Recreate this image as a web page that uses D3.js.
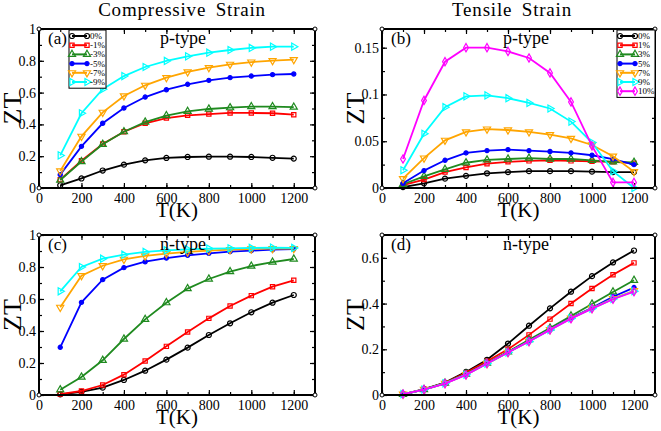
<!DOCTYPE html>
<html>
<head>
<meta charset="utf-8">
<script src="https://cdn.jsdelivr.net/npm/d3@7"></script>
<style>
body { margin: 0; background: #fff; }
svg, svg text { font-family: "Liberation Serif", "Times New Roman", serif; }
</style>
</head>
<body>
<div class="container"></div>
<script>
const wd = 661
const ht = 431
const serif = "Liberation Serif"

const svgC = d3.select(".container")
.append("svg")
.attr("width", wd)
.attr("height", ht)
.attr("font-family", serif)

// temperatures, same for every curve
const temps = [100, 200, 300, 400, 500, 600, 700, 800, 900, 1000, 1100, 1200]

// (a) compressive, p-type
const compLabels = ["0%", "-1%", "-3%", "-5%", "-7%", "-9%"]
const compP = [
    [0.017, 0.06, 0.11, 0.147, 0.174, 0.189, 0.195, 0.197, 0.197, 0.195, 0.19, 0.185],
    [0.052, 0.172, 0.277, 0.354, 0.407, 0.44, 0.457, 0.465, 0.472, 0.472, 0.47, 0.461],
    [0.05, 0.166, 0.275, 0.354, 0.415, 0.455, 0.482, 0.497, 0.505, 0.512, 0.512, 0.509],
    [0.084, 0.262, 0.407, 0.503, 0.572, 0.618, 0.652, 0.677, 0.694, 0.704, 0.713, 0.717],
    [0.107, 0.325, 0.476, 0.579, 0.646, 0.694, 0.73, 0.757, 0.778, 0.792, 0.801, 0.807],
    [0.205, 0.47, 0.621, 0.704, 0.761, 0.799, 0.828, 0.851, 0.868, 0.881, 0.889, 0.889]
]

// (b) tensile, p-type
const tensLabels = ["0%", "1%", "3%", "5%", "7%", "9%", "10%"]
const tensP = [
    [0.001, 0.005, 0.01, 0.013, 0.0157, 0.017, 0.018, 0.018, 0.018, 0.0175, 0.017, 0.017],
    [0.003, 0.009, 0.017, 0.022, 0.026, 0.028, 0.029, 0.0296, 0.029, 0.0286, 0.028, 0.0265],
    [0.004, 0.0125, 0.02, 0.027, 0.03, 0.031, 0.032, 0.031, 0.031, 0.0296, 0.028, 0.0275],
    [0.005, 0.0186, 0.0296, 0.0375, 0.04, 0.041, 0.04, 0.039, 0.0375, 0.035, 0.031, 0.025],
    [0.01, 0.032, 0.051, 0.06, 0.063, 0.062, 0.06, 0.057, 0.053, 0.046, 0.034, 0.0175],
    [0.019, 0.058, 0.0864, 0.098, 0.099, 0.096, 0.091, 0.085, 0.071, 0.0486, 0.018, 0.0],
    [0.031, 0.0936, 0.135, 0.15, 0.15, 0.146, 0.139, 0.123, 0.092, 0.045, 0.006, 0.006]
]

// (c) compressive, n-type
const compN = [
    [0.004, 0.02, 0.046, 0.094, 0.152, 0.221, 0.296, 0.375, 0.448, 0.517, 0.577, 0.625],
    [0.006, 0.025, 0.0625, 0.127, 0.2125, 0.304, 0.394, 0.479, 0.556, 0.621, 0.677, 0.717],
    [0.033, 0.1125, 0.217, 0.35, 0.473, 0.577, 0.665, 0.725, 0.771, 0.806, 0.831, 0.85],
    [0.298, 0.579, 0.721, 0.796, 0.833, 0.856, 0.873, 0.885, 0.896, 0.902, 0.908, 0.9125],
    [0.548, 0.746, 0.808, 0.848, 0.869, 0.883, 0.894, 0.902, 0.908, 0.9125, 0.915, 0.915],
    [0.648, 0.8, 0.852, 0.877, 0.894, 0.904, 0.91, 0.915, 0.917, 0.919, 0.921, 0.919]
]

// (d) tensile, n-type
const tensN = [
    [0.003, 0.026, 0.054, 0.101, 0.154, 0.225, 0.303, 0.379, 0.452, 0.52, 0.58, 0.632],
    [0.003, 0.025, 0.053, 0.097, 0.148, 0.2, 0.263, 0.332, 0.4, 0.466, 0.526, 0.578],
    [0.003, 0.024, 0.052, 0.092, 0.14, 0.189, 0.242, 0.293, 0.346, 0.398, 0.451, 0.502],
    [0.003, 0.024, 0.051, 0.09, 0.138, 0.187, 0.236, 0.287, 0.338, 0.381, 0.43, 0.47],
    [0.004, 0.024, 0.051, 0.089, 0.137, 0.186, 0.235, 0.286, 0.336, 0.379, 0.422, 0.456],
    [0.004, 0.024, 0.051, 0.089, 0.137, 0.186, 0.234, 0.285, 0.335, 0.378, 0.42, 0.454],
    [0.004, 0.024, 0.05, 0.088, 0.138, 0.186, 0.234, 0.285, 0.334, 0.378, 0.419, 0.452]
]

const xTicks = [0, 200, 400, 600, 800, 1000, 1200]

// style per series (grace-ish)
const compStyle = [
    {c: "#000000", s: "circle", f: false},
    {c: "#ff0000", s: "square", f: false},
    {c: "#1f8a1f", s: "tri", f: false},
    {c: "#0000ff", s: "circle", f: true},
    {c: "#ffa500", s: "triDown", f: false},
    {c: "#00ffff", s: "triRight", f: false}
]
const tensStyle = compStyle.concat([{c: "#ff00ff", s: "diamond", f: false}])

const panels = [
    {x0: 39, x1: 315, y0: 29, y1: 188, ymax: 1, major: 0.2, minor: 0.1, data: compP, st: compStyle, lab: "(a)", type: "p-type", legend: compLabels},
    {x0: 382, x1: 655, y0: 29, y1: 188, ymax: 0.17, major: 0.05, minor: 0.025, data: tensP, st: tensStyle, lab: "(b)", type: "p-type", legend: tensLabels},
    {x0: 39, x1: 315, y0: 235, y1: 395, ymax: 1, major: 0.2, minor: 0.1, data: compN, st: compStyle, lab: "(c)", type: "n-type"},
    {x0: 382, x1: 655, y0: 235, y1: 395, ymax: 0.7, major: 0.2, minor: 0.1, data: tensN, st: tensStyle, lab: "(d)", type: "n-type"}
]

// titles
svgC.append("text").attr("x", 182).attr("y", 16).attr("text-anchor", "middle")
.attr("font-family", serif)
.style("font-size", "19px").style("letter-spacing", "0.8px").style("word-spacing", "4px").text("Compressive Strain")
svgC.append("text").attr("x", 512).attr("y", 16).attr("text-anchor", "middle")
.attr("font-family", serif)
.style("font-size", "19px").style("letter-spacing", "0.8px").style("word-spacing", "4px").text("Tensile Strain")

function marker(g, st, x, y) {
    let sym
    let rot = 0
    if (st.s == "circle") sym = d3.symbol().type(d3.symbolCircle).size(st.f ? 14 : 20)
    else if (st.s == "square") sym = d3.symbol().type(d3.symbolSquare).size(18)
    else if (st.s == "diamond") sym = d3.symbol().type(d3.symbolDiamond).size(20)
    else {
        sym = d3.symbol().type(d3.symbolTriangle).size(22)
        if (st.s == "triDown") rot = 180
        if (st.s == "triRight") rot = 90
    }
    g.append("path")
    .attr("d", sym())
    .attr("transform", "translate(" + x + "," + y + ") rotate(" + rot + ")")
    .attr("fill", st.f ? st.c : "none")
    .attr("stroke", st.c)
    .attr("stroke-width", 1.2)
}

panels.forEach(p => {
    const g = svgC.append("g")

    const x = d3.scaleLinear().domain([0, 1300]).range([p.x0, p.x1])
    const y = d3.scaleLinear().domain([0, p.ymax]).range([p.y1, p.y0])

    const yMaj = d3.range(0, p.ymax + 1e-9, p.major)
    const yMin = d3.range(0, p.ymax + 1e-9, p.minor)
    const xMin = d3.range(0, 1301, 100)

    // ticks, inward
    const addAxis = (axis, tr) => {
        const a = g.append("g").attr("transform", tr).call(axis)
        a.attr("font-family", serif)
        a.select(".domain").remove()
        a.selectAll("line").attr("stroke", "#000").attr("stroke-width", 1.2)
        return a
    }

    let bx = addAxis(d3.axisBottom(x).tickValues(xTicks).tickSize(-5).tickPadding(4).tickFormat(d3.format("d")), "translate(0," + p.y1 + ")")
    bx.selectAll("text").attr("font-family", serif).style("font-size", "14px").attr("fill", "#000").attr("dy", "0.75em")
    addAxis(d3.axisBottom(x).tickValues(xMin).tickSize(-3).tickFormat(""), "translate(0," + p.y1 + ")")
    addAxis(d3.axisTop(x).tickValues(xTicks).tickSize(-5).tickFormat(""), "translate(0," + p.y0 + ")")
    addAxis(d3.axisTop(x).tickValues(xMin).tickSize(-3).tickFormat(""), "translate(0," + p.y0 + ")")

    let ly = addAxis(d3.axisLeft(y).tickValues(yMaj).tickSize(-5).tickPadding(3).tickFormat(d3.format("~g")), "translate(" + p.x0 + ",0)")
    ly.selectAll("text").attr("font-family", serif).style("font-size", "14px").attr("fill", "#000")
    addAxis(d3.axisLeft(y).tickValues(yMin).tickSize(-3).tickFormat(""), "translate(" + p.x0 + ",0)")
    addAxis(d3.axisRight(y).tickValues(yMaj).tickSize(-5).tickFormat(""), "translate(" + p.x1 + ",0)")
    addAxis(d3.axisRight(y).tickValues(yMin).tickSize(-3).tickFormat(""), "translate(" + p.x1 + ",0)")

    // curves
    const lineFunc = d3.line()
    .x((d, i) => x(temps[i]))
    .y(d => y(d))

    p.data.forEach((ser, k) => {
        const st = p.st[k]
        g.append("path")
        .attr("d", lineFunc(ser))
        .attr("fill", "none")
        .attr("stroke", st.c)
        .attr("stroke-width", 1.8)
        ser.forEach((v, i) => marker(g, st, x(temps[i]), y(v)))
    })

    // frame
    g.append("rect")
    .attr("x", p.x0).attr("y", p.y0)
    .attr("width", p.x1 - p.x0).attr("height", p.y1 - p.y0)
    .attr("fill", "none").attr("stroke", "#000").attr("stroke-width", 2)

    // little corner circles
    ;[[p.x0, p.y0], [p.x1, p.y0], [p.x0, p.y1], [p.x1, p.y1]].forEach(c => {
        g.append("circle").attr("cx", c[0]).attr("cy", c[1]).attr("r", 2)
        .attr("fill", "#fff").attr("stroke", "#000").attr("stroke-width", 1)
    })

    // labels
    g.append("text").attr("x", p.x0 + 9).attr("y", p.y0 + 15)
    .attr("font-family", serif)
    .style("font-size", "17px").text(p.lab)
    g.append("text").attr("x", p.x0 + 144).attr("y", p.y0 + 15).attr("text-anchor", "middle")
    .attr("font-family", serif)
    .style("font-size", "18px").text(p.type)

    g.append("text")
    .attr("transform", "translate(" + (p.x0 - 18) + "," + ((p.y0 + p.y1) / 2) + ") rotate(-90)")
    .attr("text-anchor", "middle")
    .attr("font-family", serif)
    .style("font-size", "26px").text("ZT")

    g.append("text").attr("x", x(650)).attr("y", p.y1 + 29).attr("text-anchor", "middle")
    .attr("font-family", serif)
    .style("font-size", "21px").text("T(K)")

    // legend
    if (p.legend) {
        const n = p.legend.length
        const lw = p.lab == "(a)" ? 37 : 38
        const lx = p.lab == "(a)" ? p.x0 + 30 : p.x1 - lw
        const ly0 = p.y0 + 1
        const lg = g.append("g")
        lg.append("rect").attr("x", lx).attr("y", ly0)
        .attr("width", lw).attr("height", n * 9.2 + 3)
        .attr("fill", "#fff").attr("stroke", "#000").attr("stroke-width", 1)
        p.legend.forEach((name, k) => {
            const yy = ly0 + 6 + k * 9.2
            const st = p.st[k]
            lg.append("line").attr("x1", lx + 3).attr("x2", lx + 18).attr("y1", yy).attr("y2", yy)
            .attr("stroke", st.c).attr("stroke-width", 2)
            marker(lg, st, lx + 3, yy)
            marker(lg, st, lx + 18, yy)
            lg.append("text").attr("x", lx + 21).attr("y", yy + 3)
            .attr("font-family", serif)
            .style("font-size", "9px").text(name)
        })
    }
})
</script>
</body>
</html>
